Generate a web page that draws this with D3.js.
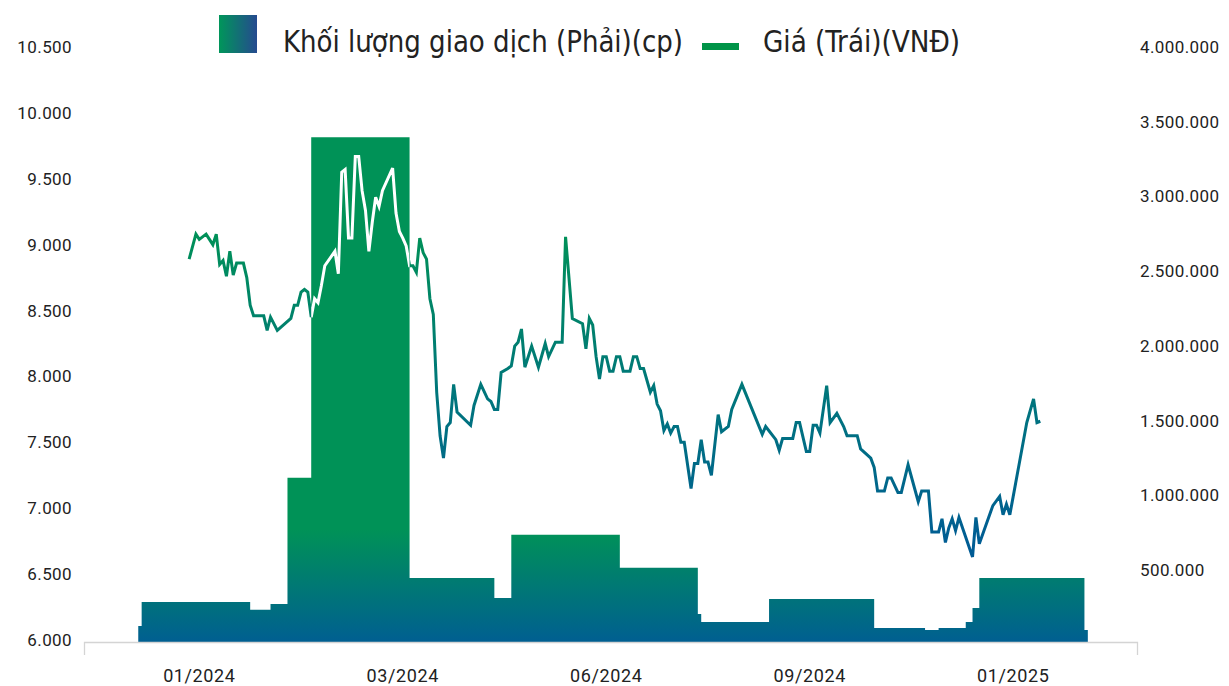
<!DOCTYPE html>
<html>
<head>
<meta charset="utf-8">
<script src="https://cdn.jsdelivr.net/npm/d3@7"></script>
<style>
  body { margin: 0; background: #fff; }
  svg { display: block; font-family: Roboto, "Noto Sans", sans-serif; }
</style>
</head>
<body>
<svg id="chart" width="1229" height="686"></svg>
<script>
// phien giao dich (index) va gia dong cua (VND)
var priceSessions = [15,17,18,20,22,23,24,25,26,27,28,29,31,32,33,34,37,38,39,41,45,46,47,48,49,50,51,52,53,54,55,58,59,60,61,62,63,64,65,66,67,68,69,70,71,72,75,76,77,78,79,80,81,82,83,84,85,86,87,88,89,90,91,92,93,94,98,99,101,103,104,105,106,107,109,110,111,112,113,114,116,118,120,121,123,125,126,128,131,132,133,134,135,136,137,138,139,140,141,142,143,145,146,147,148,149,151,152,153,154,155,156,157,158,159,160,161,163,164,165,166,167,168,169,171,172,174,175,178,184,185,188,189,190,193,194,195,197,198,199,200,201,203,204,206,208,209,212,213,216,217,218,220,221,222,224,225,227,230,231,233,234,236,237,238,239,240,241,242,246,247,248,252,254,255,256,257,262,264,265,266];
var priceValues = [8890,9080,9040,9080,9000,9080,8850,8880,8760,8950,8770,8860,8860,8750,8540,8460,8460,8350,8450,8350,8440,8540,8540,8640,8660,8640,8450,8590,8560,8690,8840,8950,8780,9550,9570,9050,9050,9670,9670,9410,9260,8950,9170,9360,9290,9410,9580,9240,9100,9050,8990,8840,8840,8790,9050,8940,8890,8590,8470,7880,7550,7380,7620,7650,7940,7730,7630,7780,7940,7830,7810,7750,7750,8030,8060,8080,8230,8260,8360,8070,8230,8070,8250,8150,8260,8260,9060,8440,8400,8210,8440,8390,8150,7980,8150,8150,8040,8040,8150,8150,8040,8040,8150,8150,8060,8060,7880,7930,7790,7740,7590,7640,7570,7620,7620,7500,7500,7150,7340,7340,7520,7350,7350,7250,7710,7580,7620,7750,7940,7560,7620,7520,7440,7530,7530,7650,7650,7430,7430,7630,7630,7570,7930,7650,7720,7620,7550,7550,7450,7380,7310,7130,7130,7230,7230,7120,7120,7330,7050,7130,7130,6820,6820,6920,6740,6850,6920,6830,6930,6630,6930,6730,7020,7090,6950,7030,6950,7650,7830,7650,7660];

// khoi luong: phien bat dau moi buoc va gia tri (cp)
var volumeStarts = [0,1,33,39,44,51,80,105,110,142,165,166,186,217,232,236,244,246,248,279];
var volumeValues = [127000,288000,235000,275000,1119000,3397000,449000,315000,737000,516000,208000,154000,308000,114000,100000,114000,154000,248000,449000,100000];
var volumeEnd = 280;

var tickSessions = [18,78,138,198,258];
var tickLabels = ["01/2024","03/2024","06/2024","09/2024","01/2025"];
var priceTicks = [6000,6500,7000,7500,8000,8500,9000,9500,10000,10500];
var volumeTicks = [500000,1000000,1500000,2000000,2500000,3000000,3500000,4000000];

var legendLabels = ["Khối lượng giao dịch (Phải)(cp)", "Giá (Trái)(VNĐ)"];

var vn = d3.formatLocale({decimal: ",", thousands: ".", grouping: [3], currency: ["", ""]});
var fmt = vn.format(",.0f");

var svg = d3.select("#chart");
var defs = svg.append("defs");

var x = d3.scaleLinear().domain([-16, 294.5]).range([84, 1137]);
var yPrice = d3.scaleLinear().domain([6000, 10500]).range([640, 47]);
var yVol = d3.scaleLinear().domain([0, 4000000]).range([645, 47]);
var baseY = 642;

// gradientes
var gVol = defs.append("linearGradient").attr("id", "gVol")
  .attr("gradientUnits", "userSpaceOnUse").attr("x1", 0).attr("x2", 0).attr("y1", 530).attr("y2", baseY);
gVol.append("stop").attr("offset", 0).attr("stop-color", "#009257");
gVol.append("stop").attr("offset", 1).attr("stop-color", "#005f91");

var gLine = defs.append("linearGradient").attr("id", "gLine")
  .attr("gradientUnits", "userSpaceOnUse").attr("x1", 0).attr("x2", 0).attr("y1", 230).attr("y2", 560);
gLine.append("stop").attr("offset", 0).attr("stop-color", "#009157");
gLine.append("stop").attr("offset", 0.55).attr("stop-color", "#00737f");
gLine.append("stop").attr("offset", 1).attr("stop-color", "#005a96");

var gLeg = defs.append("linearGradient").attr("id", "gLeg")
  .attr("x1", 0).attr("x2", 1).attr("y1", 0).attr("y2", 0);
gLeg.append("stop").attr("offset", 0).attr("stop-color", "#00965a");
gLeg.append("stop").attr("offset", 1).attr("stop-color", "#254a8f");

// datos de volumen como pasos
var volData = volumeStarts.map(function(s, i) { return {s: s, v: volumeValues[i]}; });
volData.push({s: volumeEnd, v: volumeValues[volumeValues.length - 1]});

var area = d3.area()
  .curve(d3.curveStepAfter)
  .x(function(d) { return x(d.s); })
  .y0(baseY)
  .y1(function(d) { return yVol(d.v); });

defs.append("clipPath").attr("id", "volClip")
  .append("path").attr("d", area(volData));

svg.append("path")
  .attr("d", area(volData))
  .attr("fill", "url(#gVol)");

var priceData = priceSessions.map(function(s, i) { return {s: s, p: priceValues[i]}; });
var line = d3.line()
  .x(function(d) { return x(d.s); })
  .y(function(d) { return yPrice(d.p); });

svg.append("path")
  .attr("d", line(priceData))
  .attr("fill", "none")
  .attr("stroke", "url(#gLine)")
  .attr("stroke-width", 3)
  .attr("stroke-linejoin", "miter");

// la linea sobre la barra se ve blanca
svg.append("path")
  .attr("d", line(priceData))
  .attr("clip-path", "url(#volClip)")
  .attr("fill", "none")
  .attr("stroke", "#fff")
  .attr("stroke-width", 3);

// eje x
svg.append("path")
  .attr("d", "M84.5,655V" + (baseY + 0.5) + "H1137.5V655")
  .attr("fill", "none")
  .attr("stroke", "#d4d4d4")
  .attr("stroke-width", 1.3);

svg.append("g").selectAll("text")
  .data(tickSessions).enter()
  .append("text")
  .attr("x", function(d) { return x(d); })
  .attr("y", 682)
  .attr("text-anchor", "middle")
  .attr("font-size", 18)
  .attr("letter-spacing", 0.6)
  .attr("fill", "#222")
  .text(function(d, i) { return tickLabels[i]; });

svg.append("g").selectAll("text")
  .data(priceTicks).enter()
  .append("text")
  .attr("x", 72)
  .attr("y", function(d) { return yPrice(d); })
  .attr("dy", "0.35em")
  .attr("text-anchor", "end")
  .attr("font-size", 17)
  .attr("letter-spacing", 0.4)
  .attr("fill", "#222")
  .text(function(d) { return fmt(d); });

svg.append("g").selectAll("text")
  .data(volumeTicks).enter()
  .append("text")
  .attr("x", 1140)
  .attr("y", function(d) { return yVol(d); })
  .attr("dy", "0.35em")
  .attr("text-anchor", "start")
  .attr("font-size", 17)
  .attr("letter-spacing", 0.4)
  .attr("fill", "#222")
  .text(function(d) { return fmt(d); });

// leyenda
var legFont = '"Liberation Sans Narrow", "DejaVu Sans Condensed", Roboto, sans-serif';
svg.append("rect").attr("x", 219).attr("y", 15).attr("width", 38).attr("height", 38).attr("fill", "url(#gLeg)");
svg.append("text").attr("x", 283).attr("y", 52).attr("font-size", 30).attr("fill", "#222")
  .attr("font-family", legFont)
  .attr("textLength", 400).attr("lengthAdjust", "spacingAndGlyphs")
  .text(legendLabels[0]);
svg.append("rect").attr("x", 702).attr("y", 43).attr("width", 37).attr("height", 7).attr("fill", "#009448");
svg.append("text").attr("x", 763).attr("y", 52).attr("font-size", 30).attr("fill", "#222")
  .attr("font-family", legFont)
  .attr("textLength", 197).attr("lengthAdjust", "spacingAndGlyphs")
  .text(legendLabels[1]);
</script>
</body>
</html>
